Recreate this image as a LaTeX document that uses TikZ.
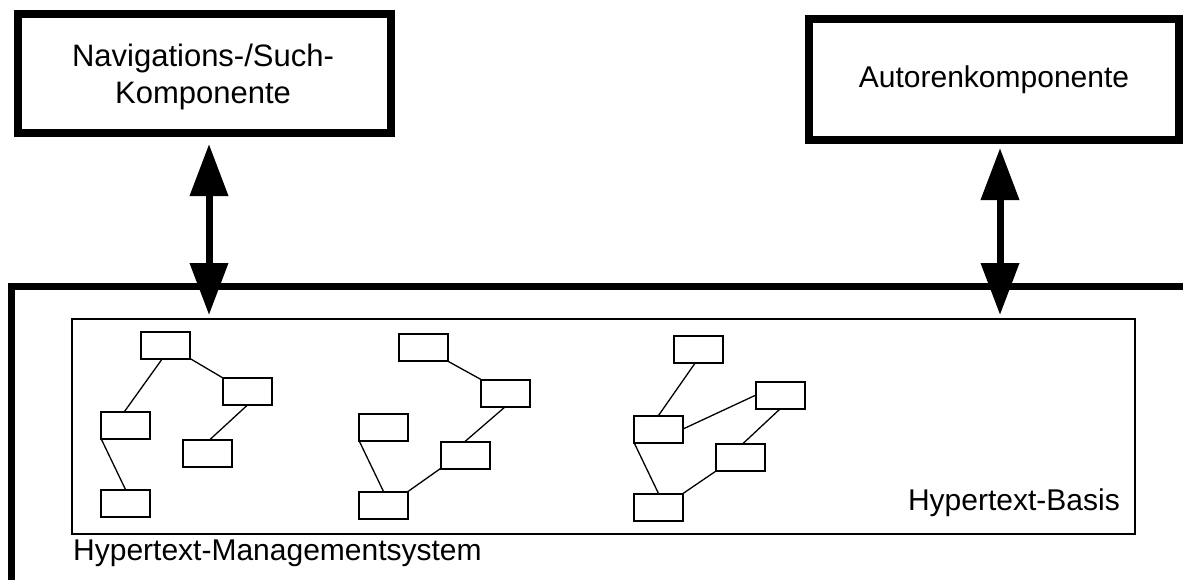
\documentclass[tikz,border=0pt]{standalone}
\usepackage{fontspec}
\setmainfont{Liberation Sans}
\usetikzlibrary{arrows.meta}
\begin{document}
\begin{tikzpicture}[x=1pt,y=-1pt,
  txt/.style={font=\fontsize{30}{37}\selectfont, inner sep=0pt},
  compbox/.style={draw, line width=8pt, line join=miter, align=center,
    font=\fontsize{30}{37}\selectfont, inner sep=0pt},
  card/.style={draw, line width=2pt, minimum width=49pt, minimum height=27pt,
    inner sep=0pt, outer sep=0pt},
  link/.style={line width=1.3pt},
  dualarrow/.style={line width=7pt,
    {Triangle[length=52pt,width=37pt]}-{Triangle[length=52pt,width=37pt]}}
]
\useasboundingbox (0,0) rectangle (1183,579);
\clip (0,0) rectangle (1183,579);

% outer frame of the management system (runs off the right and bottom)
\coordinate (hmsbl) at (11,600);
\coordinate (hmstl) at (11,286);
\coordinate (hmstr) at (1200,286);
\draw[line width=7pt, line join=miter] (hmsbl) -- (hmstl) -- (hmstr);

% components on top
\node[compbox, minimum width=373pt, minimum height=118.5pt] (nav) at (204.5,73.25) {};
\node[txt, align=center, font=\fontsize{31}{37}\selectfont] (navtext) at (203,76.5)
  {Navigations-/Such-\\Komponente};
\node[compbox, minimum width=370pt, minimum height=120.5pt] (auth) at (994,79.25)
  {Autorenkomponente};

% hypertext base
\node[draw, line width=1.5pt, minimum width=1063pt, minimum height=215pt,
  inner sep=0pt] (basis) at (603.5,426.5) {};

\node[txt, anchor=base east] (basislabel) at (1120,510) {Hypertext-Basis};
\node[txt, anchor=base west] (hmslabel) at (73,560) {Hypertext-Managementsystem};

% double-headed arrows
\draw[dualarrow] ([xshift=4.5pt,yshift=-7.5pt]nav.south)
  -- ([xshift=4.5pt,yshift=3.25pt]nav.south |- basis.north);
\draw[dualarrow] ([xshift=6pt,yshift=-4.5pt]auth.south)
  -- ([xshift=6pt,yshift=3.25pt]auth.south |- basis.north);

% first cluster
\node[card] (a) at (165.5,345) {};
\node[card] (b) at (247.5,391.5) {};
\node[card] (c) at (125.5,425) {};
\node[card] (d) at (207.5,453) {};
\node[card] (e) at (125.5,503) {};
\draw[link] ([xshift=-3pt]a.south) -- ([xshift=-1pt]c.north);
\draw[link] (a.south east) -- (b.north west);
\draw[link] (b.south) -- ([xshift=2.5pt]d.north);
\draw[link] (c.south west) -- (e.north);

% second cluster
\node[card] (f) at (423,347.5) {};
\node[card] (g) at (505.5,393) {};
\node[card] (h) at (383.5,427) {};
\node[card] (i) at (465,455) {};
\node[card] (j) at (383.5,505) {};
\draw[link] (f.south east) -- (g.north west);
\draw[link] (g.south) -- (i.north);
\draw[link] (h.south west) -- (j.north);
\draw[link] (i.south west) -- (j.north east);

% third cluster
\node[card] (k) at (698.5,349) {};
\node[card] (l) at (780.5,395) {};
\node[card] (m) at (658.5,429) {};
\node[card] (n) at (740.5,457.5) {};
\node[card] (o) at (658.5,507) {};
\draw[link] ([xshift=-3pt]k.south) -- (m.north);
\draw[link] (m.east) -- (l.west);
\draw[link] (l.south) -- ([xshift=2pt]n.north);
\draw[link] (m.south west) -- (o.north);
\draw[link] (n.south west) -- (o.north east);
\end{tikzpicture}
\end{document}
